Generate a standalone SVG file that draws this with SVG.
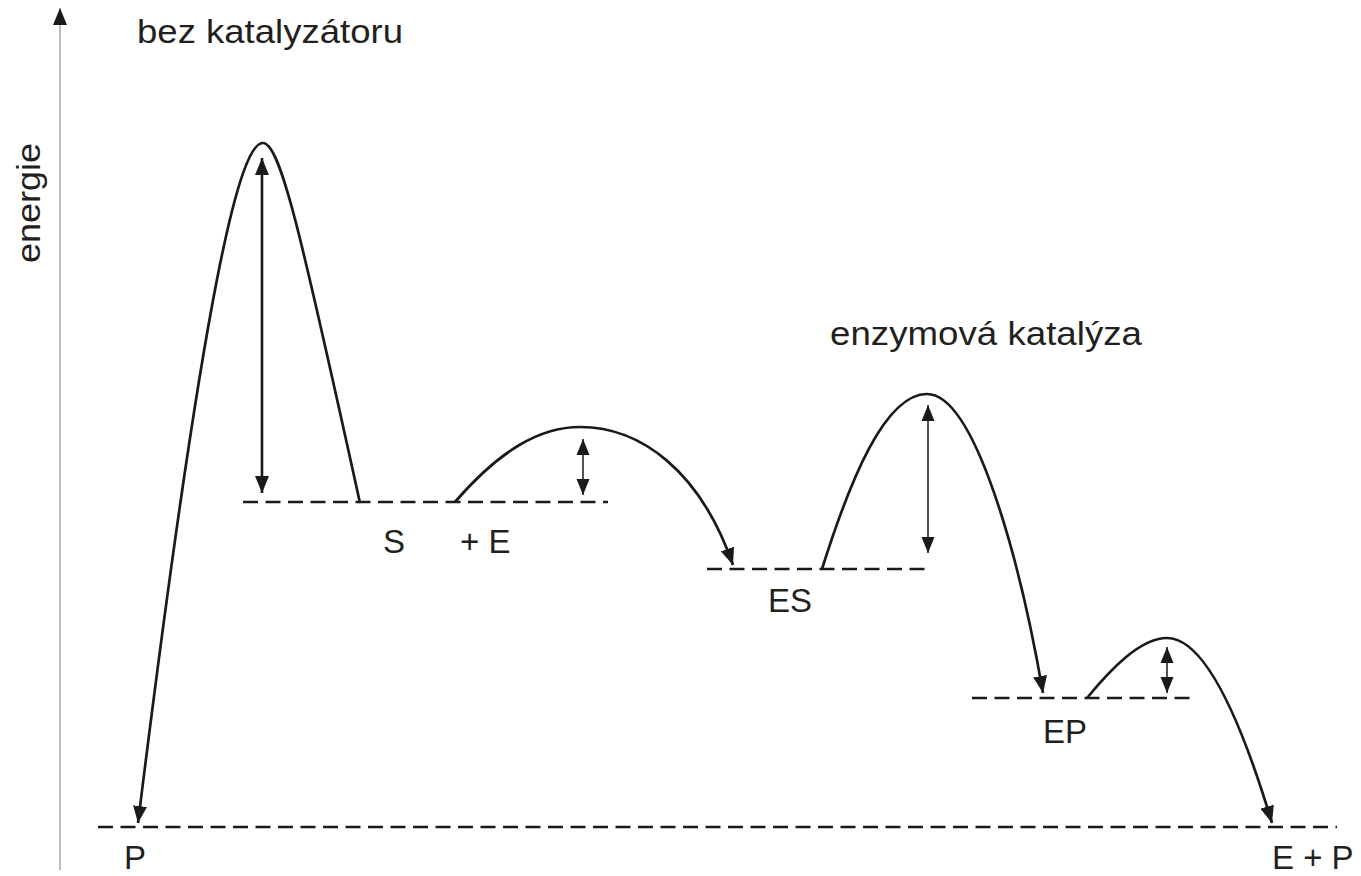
<svg xmlns="http://www.w3.org/2000/svg" width="1361" height="876" viewBox="0 0 1361 876">
<style>
.t{font-family:"Liberation Sans",Arial,sans-serif;font-size:33px;fill:#231f20}
.c{fill:none;stroke:#1a1a1a;stroke-width:2.7}
.d{fill:none;stroke:#1a1a1a;stroke-width:2.4;stroke-dasharray:15 7.5}
.a{fill:none;stroke:#1a1a1a;stroke-width:2.6}
.s{fill:none;stroke:#1a1a1a;stroke-width:1.5}
</style>
<defs>
<marker id="h" markerUnits="userSpaceOnUse" markerWidth="18" markerHeight="14" refX="17" refY="7" orient="auto-start-reverse">
<path d="M0,0 L17,7 L0,14 z" fill="#1a1a1a"/>
</marker>
<marker id="hs" markerUnits="userSpaceOnUse" markerWidth="17" markerHeight="14" refX="16" refY="7" orient="auto-start-reverse">
<path d="M0,0.5 L16,7 L0,13.5 z" fill="#1a1a1a"/>
</marker>
<marker id="ax" markerUnits="userSpaceOnUse" markerWidth="18" markerHeight="14" refX="17" refY="7" orient="auto">
<path d="M0,0 L17,7 L0,14 z" fill="#1a1a1a"/>
</marker>
</defs>
<rect width="1361" height="876" fill="#ffffff"/>

<g id="axis">
<line x1="60" y1="870" x2="60" y2="8" stroke="#999" stroke-width="1.3" marker-end="url(#ax)"/>
<text class="t" transform="translate(40,263) rotate(-90)" textLength="120" lengthAdjust="spacingAndGlyphs">energie</text>
</g>

<g id="title-uncat">
<text class="t" x="137" y="43" textLength="266" lengthAdjust="spacingAndGlyphs">bez katalyzátoru</text>
</g>
<g id="title-enz">
<text class="t" x="830" y="345" textLength="312" lengthAdjust="spacingAndGlyphs">enzymová katalýza</text>
</g>

<g id="level-S">
<line class="d" x1="243" y1="502" x2="608" y2="502"/>
<text class="t" x="383" y="553">S</text>
<text class="t" x="460" y="553">+ E</text>
</g>
<g id="level-ES">
<line class="d" x1="707" y1="569" x2="932" y2="569"/>
<text class="t" x="768" y="612">ES</text>
</g>
<g id="level-EP">
<line class="d" x1="972" y1="698" x2="1197" y2="698"/>
<text class="t" x="1043" y="743">EP</text>
</g>
<g id="level-P">
<line class="d" x1="98" y1="827" x2="1337" y2="827"/>
<text class="t" x="124" y="869">P</text>
<text class="t" x="1272" y="869">E + P</text>
</g>

<g id="connectors">
<path class="c" d="M360,503 C300,230 280,143 263,143 C240,143 205,280 138,823" marker-end="url(#h)"/>
<path class="c" d="M455,502 C500,450 540,427 580,427 C640,427 700,470 733,565" marker-end="url(#h)"/>
<path class="c" d="M822,569 C850,480 885,394 927,394 C975,394 1020,560 1043,693" marker-end="url(#h)"/>
<path class="c" d="M1087,698 C1110,670 1140,638 1167,638 C1200,638 1235,700 1272,823" marker-end="url(#h)"/>
<line class="a" x1="262" y1="158" x2="262" y2="493" marker-start="url(#h)" marker-end="url(#h)"/>
<line class="s" x1="583" y1="439" x2="583" y2="495" marker-start="url(#hs)" marker-end="url(#hs)"/>
<line class="s" x1="928" y1="405" x2="928" y2="553" marker-start="url(#hs)" marker-end="url(#hs)"/>
<line class="s" x1="1167" y1="647" x2="1167" y2="693" marker-start="url(#hs)" marker-end="url(#hs)"/>
</g>
</svg>
